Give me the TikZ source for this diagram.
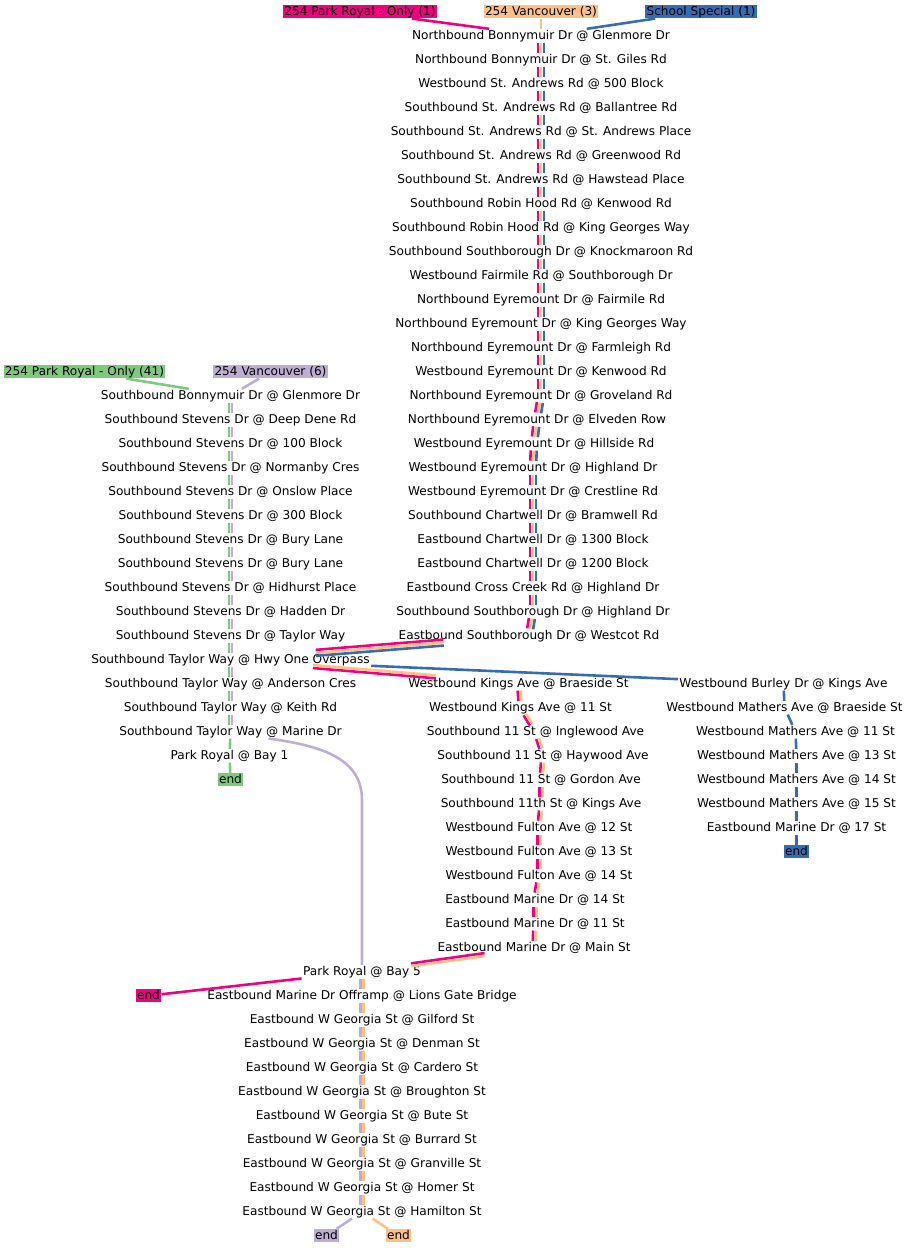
\documentclass[tikz,border=0pt]{standalone}
\usepackage{fontspec}
\setmainfont{DejaVu Sans}
\usetikzlibrary{calc}

\definecolor{rtgreen}{HTML}{7FC97F}
\definecolor{rtpurple}{HTML}{BEAED4}
\definecolor{rtorange}{HTML}{FDC086}
\definecolor{rtblue}{HTML}{386CB0}
\definecolor{rtpink}{HTML}{F0027F}

% parallel legs between two stops, offset across the direction of travel
\newcommand{\bundle}[3]{%
  \path (#1) -- coordinate[pos=0] (bs) coordinate[pos=1] (be) (#2);
  \foreach \col/\off in #3
    \draw[leg, draw=\col] ($(bs)!\off!-90:(be)$) -- ($(be)!\off!90:(bs)$);
}
\def\PinkOrangeBlue{rtpink/2.25pt,rtorange/0pt,rtblue/-2.25pt}
\def\PinkOrange{rtpink/1.125pt,rtorange/-1.125pt}
\def\GreenPurple{rtgreen/1.125pt,rtpurple/-1.125pt}
\def\PurpleOrange{rtpurple/1.125pt,rtorange/-1.125pt}

\begin{document}
\begin{tikzpicture}[x=0.75pt, y=-0.75pt,
    stop/.style={inner xsep=1pt, inner ysep=0.5pt, text height=7.1pt, text depth=1.8pt, font=\fontsize{9.1}{11}\selectfont},
    tag/.style={stop, fill=#1},
    leg/.style={line width=1.95pt}
]
\useasboundingbox (0,0) rectangle (908,1248);

\node[tag=rtpink] (hpink) at (360,11.7) {254 Park Royal - Only (1)};
\node[tag=rtorange] (horange) at (541,11.7) {254 Vancouver (3)};
\node[tag=rtblue] (hblue) at (701,11.7) {School Special (1)};
\node[tag=rtgreen] (hgreen) at (84.5,371.7) {254 Park Royal - Only (41)};
\node[tag=rtpurple] (hpurple) at (270.5,371.7) {254 Vancouver (6)};

\foreach \xx/\txt [count=\i] in {
  541/Northbound Bonnymuir Dr @ Glenmore Dr,
  541/Northbound Bonnymuir Dr @ St. Giles Rd,
  541/Westbound St. Andrews Rd @ 500 Block,
  541/Southbound St. Andrews Rd @ Ballantree Rd,
  541/Southbound St. Andrews Rd @ St. Andrews Place,
  541/Southbound St. Andrews Rd @ Greenwood Rd,
  541/Southbound St. Andrews Rd @ Hawstead Place,
  541/Southbound Robin Hood Rd @ Kenwood Rd,
  541/Southbound Robin Hood Rd @ King Georges Way,
  541/Southbound Southborough Dr @ Knockmaroon Rd,
  541/Westbound Fairmile Rd @ Southborough Dr,
  541/Northbound Eyremount Dr @ Fairmile Rd,
  541/Northbound Eyremount Dr @ King Georges Way,
  541/Northbound Eyremount Dr @ Farmleigh Rd,
  541/Westbound Eyremount Dr @ Kenwood Rd,
  541/Northbound Eyremount Dr @ Groveland Rd,
  537/Northbound Eyremount Dr @ Elveden Row,
  534/Westbound Eyremount Dr @ Hillside Rd,
  533/Westbound Eyremount Dr @ Highland Dr,
  533/Westbound Eyremount Dr @ Crestline Rd,
  533/Southbound Chartwell Dr @ Bramwell Rd,
  533/Eastbound Chartwell Dr @ 1300 Block,
  533/Eastbound Chartwell Dr @ 1200 Block,
  533/Eastbound Cross Creek Rd @ Highland Dr,
  533/Southbound Southborough Dr @ Highland Dr,
  529/Eastbound Southborough Dr @ Westcot Rd}
  \node[stop] (t\i) at (\xx,{11.7+24*\i}) {\txt};

\foreach \xx/\txt [count=\i] in {
  230.5/Southbound Bonnymuir Dr @ Glenmore Dr,
  230.5/Southbound Stevens Dr @ Deep Dene Rd,
  230.5/Southbound Stevens Dr @ 100 Block,
  230.5/Southbound Stevens Dr @ Normanby Cres,
  230.5/Southbound Stevens Dr @ Onslow Place,
  230.5/Southbound Stevens Dr @ 300 Block,
  230.5/Southbound Stevens Dr @ Bury Lane,
  230.5/Southbound Stevens Dr @ Bury Lane,
  230.5/Southbound Stevens Dr @ Hidhurst Place,
  230.5/Southbound Stevens Dr @ Hadden Dr,
  230.5/Southbound Stevens Dr @ Taylor Way,
  230.5/Southbound Taylor Way @ Hwy One Overpass,
  230.5/Southbound Taylor Way @ Anderson Cres,
  230.5/Southbound Taylor Way @ Keith Rd,
  230.5/Southbound Taylor Way @ Marine Dr,
  229.5/Park Royal @ Bay 1}
  \node[stop] (l\i) at (\xx,{11.7+24*(\i+15)}) {\txt};

\foreach \xx/\txt [count=\i] in {
  518.5/Westbound Kings Ave @ Braeside St,
  520.5/Westbound Kings Ave @ 11 St,
  535.5/Southbound 11 St @ Inglewood Ave,
  543/Southbound 11 St @ Haywood Ave,
  541/Southbound 11 St @ Gordon Ave,
  541/Southbound 11th St @ Kings Ave,
  539/Westbound Fulton Ave @ 12 St,
  539/Westbound Fulton Ave @ 13 St,
  539/Westbound Fulton Ave @ 14 St,
  535/Eastbound Marine Dr @ 14 St,
  535/Eastbound Marine Dr @ 11 St,
  534/Eastbound Marine Dr @ Main St}
  \node[stop] (k\i) at (\xx,{11.7+24*(\i+27)}) {\txt};

\foreach \xx/\txt [count=\i] in {
  783.5/Westbound Burley Dr @ Kings Ave,
  784.5/Westbound Mathers Ave @ Braeside St,
  795.5/Westbound Mathers Ave @ 11 St,
  796.5/Westbound Mathers Ave @ 13 St,
  796.5/Westbound Mathers Ave @ 14 St,
  796.5/Westbound Mathers Ave @ 15 St,
  796.5/Eastbound Marine Dr @ 17 St}
  \node[stop] (r\i) at (\xx,{11.7+24*(\i+27)}) {\txt};

\foreach \txt [count=\i] in {
  Park Royal @ Bay 5,
  Eastbound Marine Dr Offramp @ Lions Gate Bridge,
  Eastbound W Georgia St @ Gilford St,
  Eastbound W Georgia St @ Denman St,
  Eastbound W Georgia St @ Cardero St,
  Eastbound W Georgia St @ Broughton St,
  Eastbound W Georgia St @ Bute St,
  Eastbound W Georgia St @ Burrard St,
  Eastbound W Georgia St @ Granville St,
  Eastbound W Georgia St @ Homer St,
  Eastbound W Georgia St @ Hamilton St}
  \node[stop] (d\i) at (362,{11.7+24*(\i+39)}) {\txt};

\node[tag=rtgreen] (endgreen) at (230.5,779.7) {end};
\node[tag=rtblue] (endblue) at (796.5,851.7) {end};
\node[tag=rtpink] (endpink) at (148.5,995.7) {end};
\node[tag=rtpurple] (endpurple) at (326.5,1235.7) {end};
\node[tag=rtorange] (endorange) at (398.5,1235.7) {end};
\coordinate (purplebend) at (362,800);

\draw[leg, rtpink] (hpink) -- (t1);
\draw[leg, rtorange] (horange) -- (t1);
\draw[leg, rtblue] (hblue) -- (t1);
\draw[leg, rtgreen] (hgreen) -- (l1);
\draw[leg, rtpurple] (hpurple) -- (l1);

\foreach \i [count=\j from 2] in {1,...,25} {\bundle{t\i}{t\j}{\PinkOrangeBlue}}
\bundle{t26}{l12}{\PinkOrangeBlue}
\foreach \i [count=\j from 2] in {1,...,14} {\bundle{l\i}{l\j}{\GreenPurple}}
\draw[leg, rtgreen] (l15) -- (l16);
\draw[leg, rtgreen] (l16) -- (endgreen);
\bundle{l12}{k1}{\PinkOrange}
\foreach \i [count=\j from 2] in {1,...,11} {\bundle{k\i}{k\j}{\PinkOrange}}
\bundle{k12}{d1}{\PinkOrange}
\draw[leg, rtblue] (l12) -- (r1);
\foreach \i [count=\j from 2] in {1,...,6} {\draw[leg, rtblue] (r\i) -- (r\j);}
\draw[leg, rtblue] (r7) -- (endblue);
\draw[leg, rtpurple] ($(l15.south)+(38,0)$) .. controls (325,746) and (362,760) .. (purplebend) -- (d1);
\draw[leg, rtpink] (d1) -- (endpink);
\foreach \i [count=\j from 2] in {1,...,10} {\bundle{d\i}{d\j}{\PurpleOrange}}
\draw[leg, rtpurple] (d11) -- (endpurple);
\draw[leg, rtorange] (d11) -- (endorange);
\end{tikzpicture}
\end{document}
